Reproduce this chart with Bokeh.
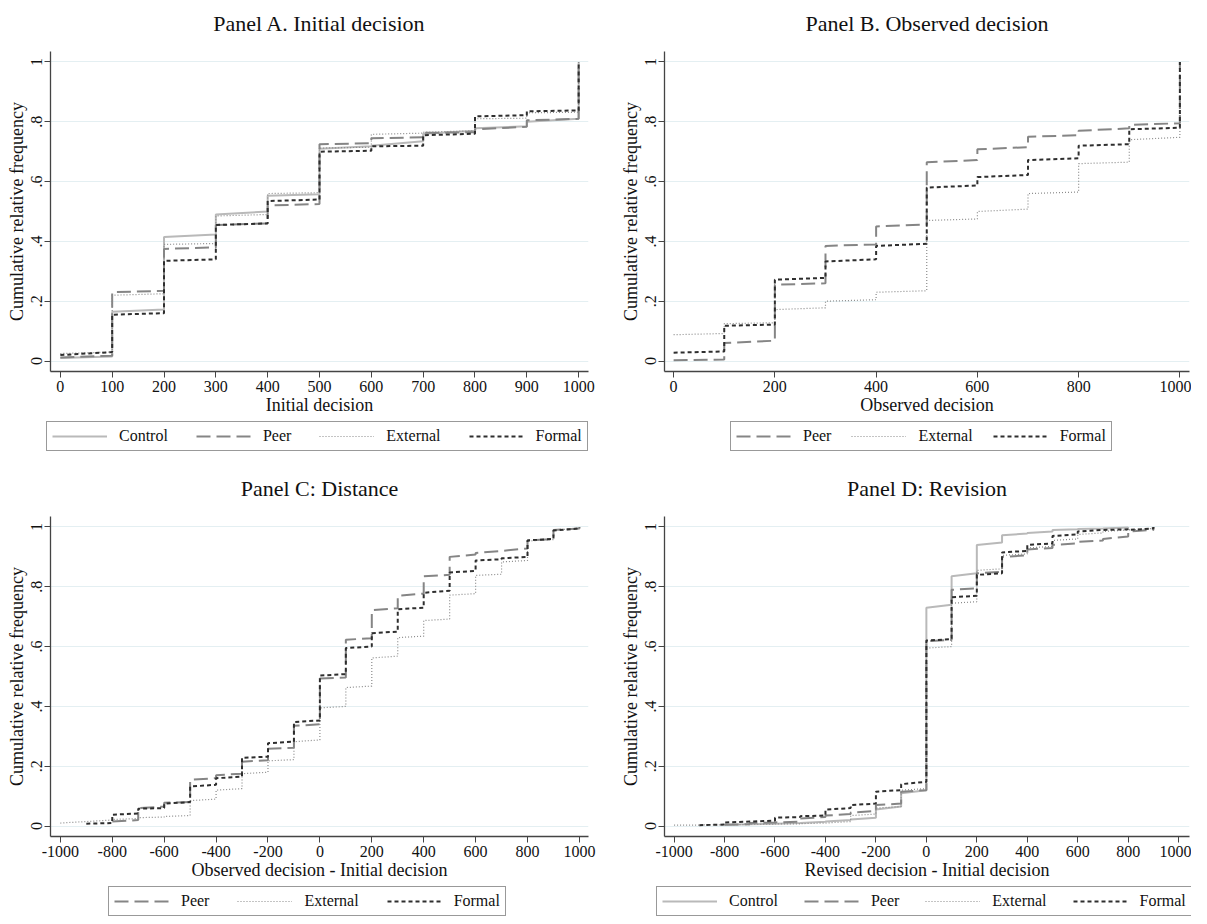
from bokeh.plotting import figure
from bokeh.models import Legend, LegendItem, FixedTicker, Range1d, CustomJSTickFormatter, Title
from bokeh.layouts import column, row
from bokeh.embed import file_html
from bokeh.resources import INLINE

FONT = "Liberation Serif"
N = None

# ---------------- Panel A: Initial decision ----------------
a_breaks = [0, 100, 200, 300, 400, 500, 600, 700, 800, 900, 1000]
a_control_lo = [0.010, 0.165, 0.415, 0.490, 0.553, 0.710, 0.720, 0.760, 0.778, 0.800]
a_control_hi = [0.015, 0.172, 0.423, 0.500, 0.558, 0.718, 0.735, 0.770, 0.785, 0.810]
a_peer_lo = [0.012, 0.230, 0.375, 0.455, 0.520, 0.725, 0.745, 0.763, 0.775, 0.805]
a_peer_hi = [0.018, 0.235, 0.380, 0.460, 0.525, 0.728, 0.748, 0.765, 0.783, 0.810]
a_external_lo = [0.025, 0.220, 0.390, 0.485, 0.560, 0.712, 0.758, 0.765, 0.810, 0.830]
a_external_hi = [0.030, 0.225, 0.393, 0.490, 0.563, 0.715, 0.762, 0.770, 0.812, 0.832]
a_formal_lo = [0.020, 0.155, 0.335, 0.455, 0.535, 0.700, 0.718, 0.755, 0.818, 0.835]
a_formal_hi = [0.030, 0.160, 0.340, 0.460, 0.540, 0.703, 0.720, 0.760, 0.822, 0.838]
a_final = 1.0
a_xticks = [0, 100, 200, 300, 400, 500, 600, 700, 800, 900, 1000]

# ---------------- Panel B: Observed decision ----------------
b_breaks = [0, 100, 200, 300, 400, 500, 600, 700, 800, 900, 1000]
b_peer_lo = [0.003, 0.060, 0.255, 0.385, 0.450, 0.665, 0.708, 0.750, 0.770, 0.790]
b_peer_hi = [0.005, 0.068, 0.260, 0.390, 0.457, 0.672, 0.715, 0.755, 0.778, 0.795]
b_external_lo = [0.088, 0.125, 0.172, 0.200, 0.230, 0.470, 0.500, 0.560, 0.660, 0.740]
b_external_hi = [0.092, 0.128, 0.178, 0.205, 0.235, 0.475, 0.508, 0.565, 0.665, 0.748]
b_formal_lo = [0.028, 0.118, 0.272, 0.333, 0.385, 0.580, 0.615, 0.672, 0.720, 0.775]
b_formal_hi = [0.032, 0.122, 0.278, 0.340, 0.392, 0.587, 0.622, 0.678, 0.725, 0.780]
b_final = 1.0
b_xticks = [0, 200, 400, 600, 800, 1000]

# ---------------- Panel C: Distance ----------------
c_breaks = [-1000, -900, -800, -700, -600, -500, -400, -300, -200, -100, 0,
            100, 200, 300, 400, 500, 600, 700, 800, 900, 1000]
c_peer_lo = [N, N, 0.015, 0.060, 0.078, 0.155, 0.170, 0.215, 0.258, 0.335,
             0.493, 0.623, 0.722, 0.770, 0.835, 0.900, 0.913, 0.920, 0.955, 0.990]
c_peer_hi = [N, N, 0.020, 0.065, 0.080, 0.160, 0.175, 0.220, 0.262, 0.340,
             0.497, 0.628, 0.728, 0.777, 0.840, 0.908, 0.920, 0.928, 0.960, 0.995]
c_external_lo = [0.010, 0.015, 0.022, 0.028, 0.032, 0.085, 0.120, 0.175, 0.218, 0.282,
                 0.395, 0.463, 0.562, 0.630, 0.687, 0.772, 0.838, 0.883, 0.953, 0.990]
c_external_hi = [0.015, 0.020, 0.025, 0.030, 0.035, 0.090, 0.125, 0.180, 0.222, 0.288,
                 0.400, 0.468, 0.568, 0.635, 0.692, 0.777, 0.842, 0.888, 0.958, 0.995]
c_formal_lo = [N, 0.008, 0.038, 0.058, 0.075, 0.132, 0.160, 0.228, 0.277, 0.348,
               0.503, 0.595, 0.645, 0.725, 0.780, 0.848, 0.888, 0.895, 0.955, 0.988]
c_formal_hi = [N, 0.010, 0.042, 0.060, 0.080, 0.138, 0.165, 0.232, 0.282, 0.353,
               0.508, 0.600, 0.650, 0.730, 0.787, 0.853, 0.892, 0.900, 0.960, 0.995]
c_final = 1.0
c_xticks = [-1000, -800, -600, -400, -200, 0, 200, 400, 600, 800, 1000]

# ---------------- Panel D: Revision ----------------
d_breaks = [-1000, -900, -800, -700, -600, -500, -400, -300, -200, -100, 0,
            100, 200, 300, 400, 500, 600, 700, 800, 900]
d_control_lo = [N, N, 0.004, 0.006, 0.008, 0.010, 0.015, 0.022, 0.055, 0.110,
                0.730, 0.835, 0.940, 0.972, 0.980, 0.990, 0.993, 0.995, N]
d_control_hi = [N, N, 0.006, 0.008, 0.010, 0.014, 0.020, 0.028, 0.065, 0.120,
                0.740, 0.845, 0.948, 0.978, 0.985, 0.992, 0.995, 0.998, N]
d_peer_lo = [N, N, 0.004, 0.010, 0.012, 0.025, 0.035, 0.045, 0.070, 0.115,
             0.618, 0.790, 0.845, 0.900, 0.925, 0.940, 0.950, 0.960, 0.985]
d_peer_hi = [N, N, 0.006, 0.012, 0.015, 0.030, 0.040, 0.050, 0.075, 0.120,
             0.622, 0.795, 0.850, 0.905, 0.930, 0.945, 0.955, 0.968, 0.990]
d_external_lo = [0.003, 0.004, 0.005, 0.006, 0.007, 0.008, 0.010, 0.035, 0.060, 0.120,
                 0.595, 0.745, 0.855, 0.905, 0.930, 0.955, 0.975, 0.985, 0.990]
d_external_hi = [0.003, 0.004, 0.005, 0.006, 0.007, 0.010, 0.015, 0.040, 0.065, 0.125,
                 0.600, 0.750, 0.860, 0.910, 0.935, 0.960, 0.980, 0.990, 0.995]
d_formal_lo = [N, 0.003, 0.012, 0.015, 0.028, 0.033, 0.055, 0.070, 0.115, 0.140,
               0.620, 0.765, 0.840, 0.915, 0.940, 0.970, 0.985, 0.990, 0.990]
d_formal_hi = [N, 0.005, 0.015, 0.018, 0.030, 0.035, 0.060, 0.075, 0.120, 0.148,
               0.625, 0.770, 0.845, 0.920, 0.945, 0.975, 0.990, 0.992, 0.995]
d_final = 1.0
d_xticks = [-1000, -800, -600, -400, -200, 0, 200, 400, 600, 800, 1000]

y_ticks = [0, 0.2, 0.4, 0.6, 0.8, 1.0]

STYLES = {
    "Control": dict(line_color="#b9b9b9", line_width=2.0, line_dash="solid"),
    "Peer": dict(line_color="#858585", line_width=2.0, line_dash="14 6"),
    "External": dict(line_color="#8a8a8a", line_width=1.2, line_dash="1 2"),
    "Formal": dict(line_color="#2e2e2e", line_width=2.0, line_dash="4 3"),
}


def step_path(breaks, lo, hi, final):
    xs, ys = [], []
    last = None
    for k in range(len(lo)):
        if lo[k] is None:
            continue
        xs.append(breaks[k]); ys.append(lo[k])
        xs.append(breaks[k + 1]); ys.append(hi[k])
        last = k
    xs.append(breaks[last + 1]); ys.append(final)
    return xs, ys


def make_panel(title, xlabel, breaks, series, final, xticks, xrange,
               frame_w, left, right, top, leg_x, leg_spacing):
    p = figure(frame_width=frame_w, frame_height=320, output_backend="svg",
               toolbar_location=None,
               x_range=Range1d(*xrange), y_range=Range1d(-0.035, 1.035),
               min_border_left=left, min_border_right=right,
               min_border_top=top, min_border_bottom=50)
    p.outline_line_color = None
    p.background_fill_color = "white"
    p.title.text = title
    p.title.align = "center"
    p.title.text_font = FONT
    p.title.text_font_size = "22px"
    p.title.text_font_style = "normal"
    p.title.text_color = "#111111"
    p.title.standoff = 10
    # thin blank band between the title and the plot area
    p.add_layout(Title(text=" ", text_font_size="8px", standoff=0), "above")

    p.xgrid.visible = False
    p.ygrid.grid_line_color = "#e4eff2"
    p.ygrid.grid_line_width = 1
    p.ygrid.ticker = FixedTicker(ticks=y_ticks)

    for ax in (p.xaxis[0], p.yaxis[0]):
        ax.axis_line_color = "#444444"
        ax.axis_line_width = 1.3
        ax.major_tick_line_color = "#444444"
        ax.major_tick_out = 6
        ax.major_tick_in = 0
        ax.minor_tick_line_color = None
        ax.major_label_text_font = FONT
        ax.major_label_text_font_size = "16px"
        ax.major_label_text_color = "#111111"
        ax.axis_label_text_font = FONT
        ax.axis_label_text_font_size = "18px"
        ax.axis_label_text_font_style = "normal"
        ax.axis_label_text_color = "#111111"

    p.xaxis.ticker = FixedTicker(ticks=xticks)
    p.xaxis.formatter = CustomJSTickFormatter(code="return String(Math.round(tick));")
    p.xaxis.axis_label = xlabel
    p.xaxis.axis_label_standoff = 0
    p.xaxis.major_label_standoff = 3
    p.yaxis.ticker = FixedTicker(ticks=y_ticks)
    p.yaxis.axis_label = "Cumulative relative frequency"
    p.yaxis.axis_label_standoff = 2
    p.yaxis.major_label_standoff = 2
    p.yaxis.major_label_orientation = "vertical"
    p.yaxis.formatter = CustomJSTickFormatter(code="""
        if (Math.abs(tick) < 1e-9) return '0';
        if (Math.abs(tick - 1) < 1e-9) return '1';
        return tick.toFixed(1).replace(/^0/, '');
    """)

    for name, lo, hi in series:
        xs, ys = step_path(breaks, lo, hi, final)
        p.line(xs, ys, **STYLES[name])

    # legend strip under the panel, spanning the full panel width
    total_w = left + frame_w + right
    lg = figure(frame_width=total_w, height=34, output_backend="svg",
                toolbar_location=None, x_range=Range1d(0, 1), y_range=Range1d(0, 1),
                min_border_left=0, min_border_right=0,
                min_border_top=0, min_border_bottom=0)
    lg.axis.visible = False
    lg.grid.visible = False
    lg.outline_line_color = None
    items = []
    for name, lo, hi in series:
        # proxy renderer kept outside the strip's visible range; only its legend glyph shows
        r = lg.line([5, 6], [5, 6], **STYLES[name])
        items.append(LegendItem(label=name, renderers=[r]))
    leg = Legend(items=items, orientation="horizontal", location=(leg_x, 4))
    leg.label_text_font = FONT
    leg.label_text_font_size = "16px"
    leg.label_text_color = "#111111"
    leg.glyph_width = 55
    leg.glyph_height = 16
    leg.label_standoff = 12
    leg.spacing = leg_spacing
    leg.padding = 5
    leg.margin = 0
    leg.border_line_color = "#333333"
    leg.border_line_width = 1.2
    leg.background_fill_color = "white"
    lg.add_layout(leg)
    return column(p, lg, spacing=0)


pa = make_panel("Panel A. Initial decision", "Initial decision", a_breaks,
                [("Control", a_control_lo, a_control_hi), ("Peer", a_peer_lo, a_peer_hi),
                 ("External", a_external_lo, a_external_hi), ("Formal", a_formal_lo, a_formal_hi)],
                a_final, a_xticks, (-19, 1019), 538, 50, 8, 51, 46, 28)
pb = make_panel("Panel B. Observed decision", "Observed decision", b_breaks,
                [("Peer", b_peer_lo, b_peer_hi), ("External", b_external_lo, b_external_hi),
                 ("Formal", b_formal_lo, b_formal_hi)],
                b_final, b_xticks, (-18, 1019), 525, 68, 2, 51, 134, 20)
pc = make_panel("Panel C: Distance", "Observed decision - Initial decision", c_breaks,
                [("Peer", c_peer_lo, c_peer_hi), ("External", c_external_lo, c_external_hi),
                 ("Formal", c_formal_lo, c_formal_hi)],
                c_final, c_xticks, (-1038, 1035), 538, 50, 8, 61, 108, 28)
pd_ = make_panel("Panel D: Revision", "Revised decision - Initial decision", d_breaks,
                 [("Control", d_control_lo, d_control_hi), ("Peer", d_peer_lo, d_peer_hi),
                  ("External", d_external_lo, d_external_hi), ("Formal", d_formal_lo, d_formal_hi)],
                 d_final, d_xticks, (-1038, 1043), 525, 68, 2, 61, 60, 26)

layout = column(row(pa, pb), row(pc, pd_))
open("out.html", "w").write(file_html(layout, INLINE))
